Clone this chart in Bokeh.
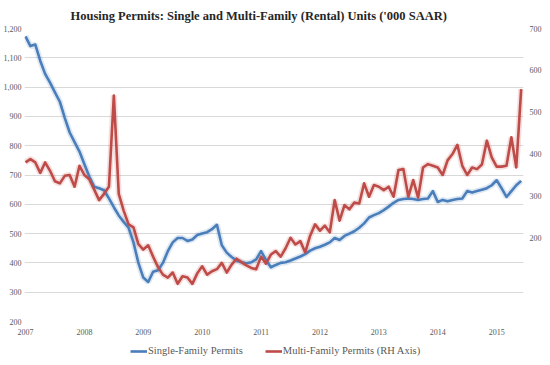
from bokeh.plotting import figure
from bokeh.layouts import column
from bokeh.models import Range1d, LinearAxis, FixedTicker, Legend, LegendItem, NumeralTickFormatter
from bokeh.embed import file_html
from bokeh.resources import INLINE

# Monthly data, Jan 2007 onward ('000 SAAR)
start_year = 2007
single_family = [1173, 1140, 1145, 1090, 1045, 1015, 982, 950, 895, 845, 812, 780,
                 737, 695, 660, 655, 648, 620, 590, 562, 540, 520, 470, 400,
                 350, 335, 370, 375, 400, 440, 470, 485, 485, 475, 480, 495,
                 500, 505, 515, 530, 460, 435, 420, 408, 402, 399, 402, 412,
                 440, 410, 385, 393, 400, 402, 408, 415, 422, 430, 442, 450,
                 455, 462, 470, 485, 478, 492, 500, 508, 520, 535, 555, 563,
                 570, 580, 592, 605, 615, 618, 620, 618, 615, 618, 620, 645,
                 608, 615, 610, 615, 618, 620, 645, 640, 645, 650, 655, 665,
                 682, 655, 625, 645, 665, 680]
multi_family = [380, 388, 380, 355, 380, 360, 335, 330, 348, 350, 322, 372,
                350, 340, 315, 290, 305, 322, 540, 305, 265, 232, 225, 185,
                172, 182, 155, 130, 112, 105, 117, 90, 108, 105, 90, 115,
                132, 112, 120, 125, 140, 117, 136, 150, 142, 134, 128, 125,
                155, 138, 160, 168, 155, 175, 200, 184, 192, 165, 205, 232,
                217, 229, 213, 290, 241, 278, 268, 284, 282, 330, 298, 326,
                322, 314, 322, 298, 362, 364, 298, 338, 296, 368, 376, 372,
                368, 350, 385, 400, 422, 372, 350, 368, 364, 375, 432, 392,
                370, 370, 372, 440, 368, 555]
year_ticks = [2007, 2008, 2009, 2010, 2011, 2012, 2013, 2014, 2015]
left_ticks = [200, 300, 400, 500, 600, 700, 800, 900, 1000, 1100, 1200]
right_ticks = [0, 100, 200, 300, 400, 500, 600, 700]
series_names = ["Single-Family Permits", "Multi-Family Permits (RH Axis)"]

x = [start_year + i / 12 for i in range(len(single_family))]

BLUE = "#4A7EBB"
RED = "#BE4B48"
TXT = "#595959"
FONT = "Liberation Serif"

p = figure(frame_width=499, frame_height=293, output_backend="svg", toolbar_location=None,
           x_range=Range1d(2006.983, 2015.456), y_range=Range1d(200, 1200),
           min_border_left=0, min_border_right=0, min_border_top=23, min_border_bottom=0)
p.extra_y_ranges = {"rh": Range1d(0, 700)}

p.title.text = "Housing Permits: Single and Multi-Family  (Rental) Units  ('000 SAAR)"
p.title.align = "left"
p.title.offset = 46
p.title.text_font = FONT
p.title.text_font_style = "bold"
p.title.text_font_size = "12.5px"
p.title.text_color = "#262626"
p.title.standoff = 12

p.outline_line_color = None
p.background_fill_color = "white"
p.border_fill_color = "white"

p.xgrid.visible = False
p.ygrid.ticker = FixedTicker(ticks=left_ticks)
p.ygrid.grid_line_color = "#D9D9D9"
p.ygrid.grid_line_width = 1

rax = LinearAxis(y_range_name="rh", ticker=FixedTicker(ticks=right_ticks))
p.add_layout(rax, "right")

for ax in [p.xaxis[0], p.yaxis[0], rax]:
    ax.axis_line_color = None
    ax.major_tick_line_color = None
    ax.minor_tick_line_color = None
    ax.major_tick_out = 0
    ax.major_tick_in = 0
    ax.minor_tick_out = 0
    ax.minor_tick_in = 0
    ax.major_label_text_font = FONT
    ax.major_label_text_font_size = "8px"
    ax.major_label_text_color = TXT

p.xaxis.ticker = FixedTicker(ticks=year_ticks)
p.xaxis.major_label_standoff = 7
p.yaxis.ticker = FixedTicker(ticks=left_ticks)
p.yaxis.formatter = NumeralTickFormatter(format="0,0")
p.yaxis.major_label_standoff = 3
rax.major_label_standoff = 6

# soft glow under lines
p.line(x, single_family, color=BLUE, line_width=6, line_alpha=0.18)
p.line(x, multi_family, color=RED, line_width=6, line_alpha=0.18, y_range_name="rh")
p.line(x, single_family, color=BLUE, line_width=2.6, line_join="round")
p.line(x, multi_family, color=RED, line_width=2.6, line_join="round", y_range_name="rh")

# legend strip below the chart
leg = figure(width=534, height=24, output_backend="svg", toolbar_location=None,
             x_axis_type=None, y_axis_type=None,
             min_border_left=0, min_border_right=0, min_border_top=0, min_border_bottom=0)
leg.outline_line_color = None
leg.xgrid.visible = False
leg.ygrid.visible = False
lb = leg.line(x, single_family, color=BLUE, line_width=2.6, visible=False)
lr = leg.line(x, multi_family, color=RED, line_width=2.6, visible=False)
legend = Legend(items=[LegendItem(label=series_names[0], renderers=[lb]),
                       LegendItem(label=series_names[1], renderers=[lr])],
                orientation="horizontal", location=(106, 5),
                border_line_color=None, background_fill_alpha=0,
                inactive_fill_alpha=0,
                label_text_font=FONT, label_text_font_size="10.5px", label_text_color=TXT,
                glyph_width=17, glyph_height=10, label_standoff=1, spacing=22,
                padding=0, margin=0)
leg.add_layout(legend, "center")

layout = column(p, leg, spacing=0)
open("out.html", "w").write(file_html(layout, INLINE))
